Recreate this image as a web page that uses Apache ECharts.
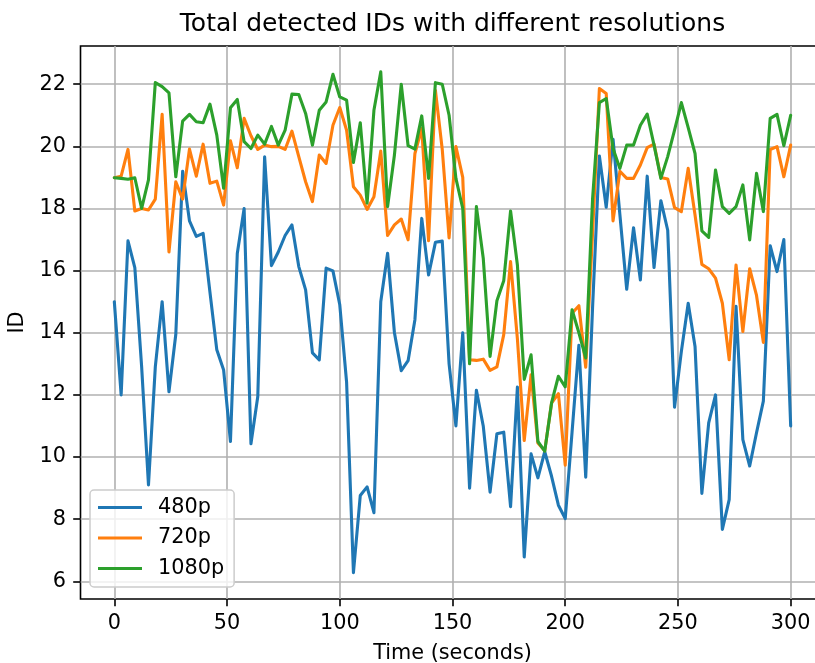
<!DOCTYPE html>
<html>
<head>
<meta charset="utf-8">
<script src="https://cdn.jsdelivr.net/npm/echarts@6/dist/echarts.min.js"></script>
<style>
html,body{margin:0;padding:0;background:#fff;}
#chart{width:815px;height:663px;}
</style>
</head>
<body>
<div id="chart"></div>
<script>
// ---- data ----
const sampleCount = 100;
const timeStep = 300 / 99; // seconds between samples
const seriesNames = ['480p', '720p', '1080p'];
const xTicks = [0, 50, 100, 150, 200, 250, 300];
const yTicks = [6, 8, 10, 12, 14, 16, 18, 20, 22];

const ids480 = [
  15.0, 12.0, 16.96, 16.1, 12.9, 9.1, 12.9, 15.0, 12.1, 13.95,
  19.2, 17.6, 17.1, 17.2, 15.3, 13.45, 12.8, 10.5, 16.55, 18.0,
  10.43, 11.95, 19.66, 16.16, 16.6, 17.13, 17.47, 16.13, 15.38, 13.35,
  13.13, 16.08, 15.99, 14.9, 12.4, 6.28, 8.76, 9.04, 8.21, 15.0,
  16.56, 14.0, 12.78, 13.1, 14.42, 17.68, 15.86, 16.91, 16.95, 13.0,
  11.0, 14.0, 9.0, 12.15, 11.0, 8.87, 10.75, 10.8, 8.4, 12.25,
  6.78, 10.1, 9.33, 10.17, 9.38, 8.45, 8.02, 10.8, 13.6, 9.35,
  14.8, 19.69, 18.04, 20.23, 17.8, 15.4, 17.38, 15.7, 19.04, 16.1,
  18.25, 17.3, 11.6, 13.4, 14.95, 13.56, 8.83, 11.1, 12.0, 7.67,
  8.63, 14.85, 10.56, 9.71, 10.78, 11.8, 16.8, 15.97, 17.0, 11.0
];
const ids720 = [
  18.99, 19.04, 19.9, 17.92, 18.0, 17.95, 18.3, 21.03, 16.6, 18.86,
  18.3, 19.91, 19.04, 20.07, 18.81, 18.88, 18.11, 20.18, 19.31, 20.9,
  20.34, 19.9, 20.04, 19.99, 20.0, 19.9, 20.49, 19.67, 18.86, 18.22,
  19.72, 19.45, 20.68, 21.25, 20.52, 18.7, 18.43, 17.97, 18.38, 19.85,
  17.13, 17.47, 17.66, 16.99, 19.77, 20.58, 16.96, 21.8, 19.9, 17.05,
  19.99, 19.0, 13.13, 13.11, 13.15, 12.79, 12.9, 13.94, 16.29, 13.8,
  10.53, 12.65, 10.45, 10.2, 11.74, 12.04, 9.74, 14.63, 14.87, 12.89,
  17.2, 21.86, 21.7, 17.6, 19.2, 18.97, 18.97, 19.4, 19.96, 20.07,
  19.0, 18.95, 18.03, 17.9, 19.29, 17.79, 16.2, 16.06, 15.76, 14.95,
  13.13, 16.18, 14.04, 16.06, 15.2, 13.69, 19.9, 19.99, 19.02, 20.04
];
const ids1080 = [
  18.99, 18.97, 18.94, 18.99, 18.0, 18.92, 22.05, 21.92, 21.72, 19.02,
  20.81, 21.03, 20.79, 20.76, 21.36, 20.36, 18.65, 21.24, 21.51, 20.15,
  19.93, 20.36, 20.07, 20.64, 20.04, 20.52, 21.68, 21.67, 21.06, 20.04,
  21.16, 21.43, 22.32, 21.59, 21.49, 19.48, 20.76, 18.17, 21.16, 22.4,
  18.06, 19.72, 22.0, 20.02, 19.91, 20.98, 18.97, 22.05, 22.0, 21.0,
  18.97, 18.0, 13.0, 18.06, 16.4, 13.24, 15.03, 15.67, 17.92, 16.18,
  12.5, 13.29, 10.5, 10.19, 11.74, 12.6, 12.26, 14.74, 14.0, 13.19,
  18.3, 21.41, 21.54, 19.93, 19.29, 20.04, 20.04, 20.68, 21.04, 20.04,
  18.97, 19.67, 20.52, 21.41, 20.6, 19.77, 17.28, 17.07, 19.24, 18.06,
  17.84, 18.06, 18.76, 16.99, 19.13, 17.9, 20.9, 21.03, 20.02, 21.0
];
const seriesColors = ['#1f77b4', '#ff7f0e', '#2ca02c'];

// ---- build ----
const times = [];
for (let i = 0; i < sampleCount; i++) times.push(i * timeStep);
const allValues = [ids480, ids720, ids1080];
const FONT = 'DejaVu Sans';

const chart = echarts.init(document.getElementById('chart'), null, {renderer: 'canvas'});
const option = {
  animation: false,
  backgroundColor: '#ffffff',
  title: {
    text: 'Total detected IDs with different resolutions',
    left: 452.5,
    top: 12,
    padding: 0,
    textAlign: 'center',
    textStyle: {fontFamily: FONT, fontSize: 25, fontWeight: 'normal', color: '#000'}
  },
  grid: {
    left: 80.5, top: 46, width: 744, height: 553,
    outerBoundsMode: 'none',
    show: true, borderColor: '#000', borderWidth: 1.6,
    backgroundColor: 'transparent', containLabel: false
  },
  xAxis: {
    type: 'value', min: -15, max: 315,
    name: 'Time (seconds)', nameLocation: 'middle', nameGap: 44,
    nameTextStyle: {fontFamily: FONT, fontSize: 20.8, color: '#000'},
    axisLine: {show: false, onZero: false},
    axisTick: {show: true, length: 7.3, lineStyle: {color: '#000', width: 1.6}, customValues: xTicks},
    axisLabel: {customValues: xTicks, margin: 14, fontFamily: FONT, fontSize: 20.8, color: '#000'},
    splitLine: {show: true, lineStyle: {color: '#b0b0b0', width: 1.6}}
  },
  yAxis: {
    type: 'value', min: 5.43, max: 23.23,
    name: 'ID', nameLocation: 'middle', nameGap: 47,
    nameTextStyle: {fontFamily: FONT, fontSize: 20.8, color: '#000'},
    axisLine: {show: false, onZero: false},
    axisTick: {show: true, length: 7.3, lineStyle: {color: '#000', width: 1.6}, customValues: yTicks},
    axisLabel: {customValues: yTicks, margin: 14.6, fontFamily: FONT, fontSize: 20.8, color: '#000'},
    splitLine: {show: true, lineStyle: {color: '#b0b0b0', width: 1.6}}
  },
  legend: {
    orient: 'vertical', left: 90, top: 490,
    icon: 'rect',
    itemWidth: 44, itemHeight: 3.1, itemGap: 9.5,
    padding: [7, 10, 8, 8],
    backgroundColor: 'rgba(255,255,255,0.8)',
    borderColor: '#cccccc', borderWidth: 1.5, borderRadius: 4,
    textStyle: {fontFamily: FONT, fontSize: 20.8, color: '#000', lineHeight: 21, padding: [0, 0, 0, 11]},
    data: seriesNames
  },
  series: seriesNames.map((name, k) => ({
    name: name,
    type: 'line',
    symbol: 'none',
    color: seriesColors[k],
    lineStyle: {width: 3.1, color: seriesColors[k], join: 'round', cap: 'round'},
    data: times.map((t, i) => [t, allValues[k][i]])
  }))
};
chart.setOption(option);
</script>
</body>
</html>
